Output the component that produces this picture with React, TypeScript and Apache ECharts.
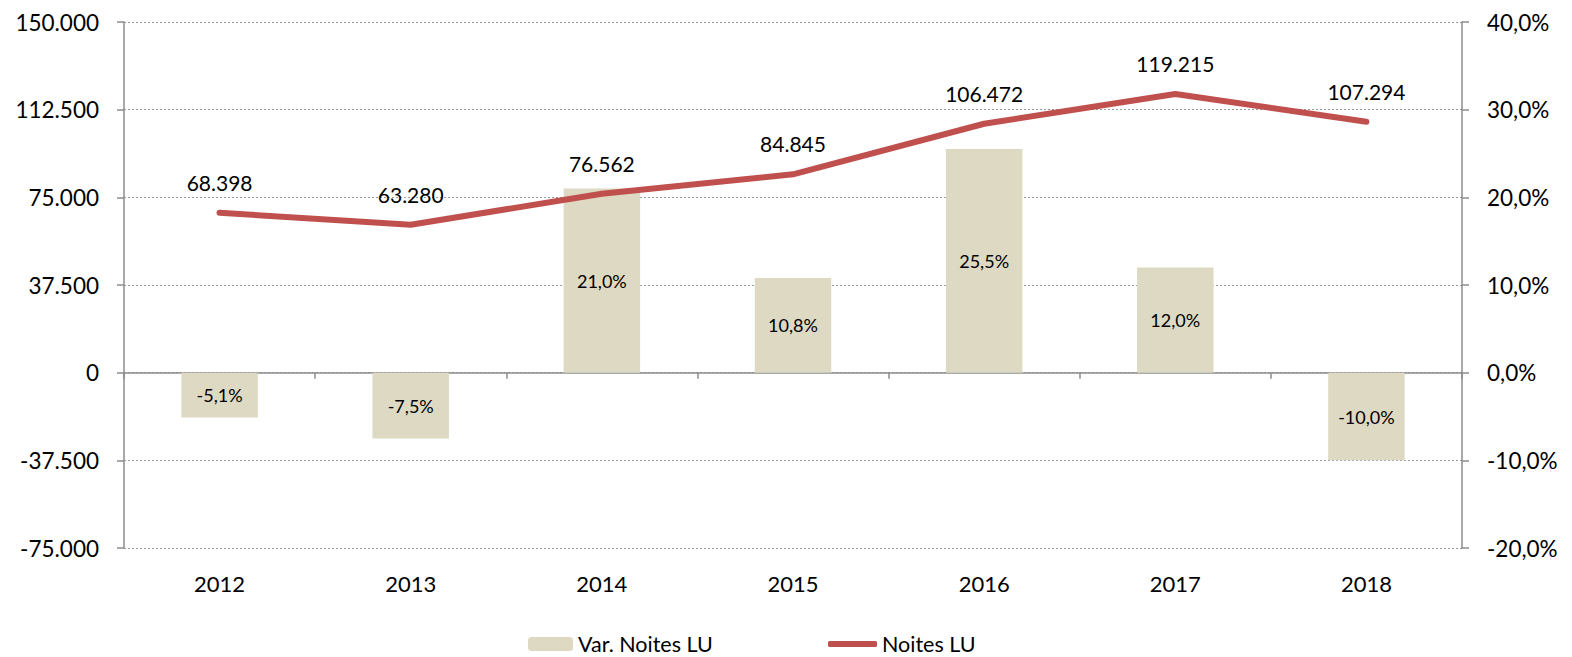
import React, { useEffect, useRef } from "react";
import * as echarts from "echarts";

const categories = ["2012", "2013", "2014", "2015", "2016", "2017", "2018"];
const varNoites = [-5.1, -7.5, 21.0, 10.8, 25.5, 12.0, -10.0];
const noites = [68398, 63280, 76562, 84845, 106472, 119215, 107294];
const barName = "Var. Noites LU";
const lineName = "Noites LU";

const FONT = "Lato, 'Open Sans', sans-serif";
const AXIS_GRAY = "#8c8c8c";
const RED = "#C0504D";

const fmtThousands = (v: number) => {
  const neg = v < 0;
  const s = Math.abs(Math.round(v)).toString().replace(/\B(?=(\d{3})+(?!\d))/g, ".");
  return (neg ? "-" : "") + s;
};
const fmtPct = (v: number) => v.toFixed(1).replace(".", ",") + "%";

export default function App() {
  const ref = useRef<HTMLDivElement>(null);
  useEffect(() => {
    if (!ref.current) return;
    const chart = echarts.init(ref.current, undefined, { renderer: "svg" });
    chart.setOption({
      animation: false,
      textStyle: { fontFamily: FONT },
      grid: { left: 124, right: 110, top: 22, bottom: 109, containLabel: false },
      legend: [
        {
          data: [barName],
          left: 528,
          top: 633,
          padding: 0,
          itemWidth: 45,
          itemHeight: 14,
          textStyle: { fontSize: 21.5, color: "#000", fontFamily: FONT },
        },
        {
          data: [{ name: lineName, icon: "roundRect" }],
          left: 828,
          top: 633,
          padding: 0,
          itemWidth: 49,
          itemHeight: 6,
          textStyle: { fontSize: 21.5, color: "#000", fontFamily: FONT },
        },
      ],
      xAxis: [
        {
          type: "category",
          data: categories,
          position: "bottom",
          axisLine: { show: false, onZero: false },
          axisTick: { show: false },
          axisLabel: { fontSize: 22, color: "#000", margin: 24, fontFamily: FONT },
          splitLine: { show: false },
        },
        {
          type: "category",
          data: categories,
          position: "bottom",
          axisLine: { show: true, onZero: true, onZeroAxisIndex: 0, lineStyle: { color: AXIS_GRAY, width: 1.5 } },
          axisTick: { show: true, length: 6, lineStyle: { color: AXIS_GRAY, width: 1.5 } },
          axisLabel: { show: false },
          splitLine: { show: false },
        },
      ],
      yAxis: [
        {
          type: "value",
          min: -75000,
          max: 150000,
          interval: 37500,
          position: "left",
          axisLine: { show: true, lineStyle: { color: AXIS_GRAY, width: 1.5 } },
          axisTick: { show: true, length: 7, lineStyle: { color: AXIS_GRAY, width: 1.5 } },
          axisLabel: { fontSize: 22.5, color: "#000", margin: 25, formatter: (v: number) => fmtThousands(v), fontFamily: FONT },
          splitLine: { show: true, lineStyle: { color: "#9a9a9a", type: [2, 2], width: 1 } },
        },
        {
          type: "value",
          min: -20,
          max: 40,
          interval: 10,
          position: "right",
          axisLine: { show: true, lineStyle: { color: AXIS_GRAY, width: 1.5 } },
          axisTick: { show: true, length: 7, lineStyle: { color: AXIS_GRAY, width: 1.5 } },
          axisLabel: { fontSize: 22.5, color: "#000", margin: 25, formatter: (v: number) => fmtPct(v), fontFamily: FONT },
          splitLine: { show: false },
        },
      ],
      series: [
        {
          name: barName,
          type: "bar",
          xAxisIndex: 0,
          yAxisIndex: 1,
          data: varNoites,
          barWidth: "40%",
          itemStyle: { color: "#DDD9C3" },
          label: {
            show: true,
            position: "inside",
            fontSize: 18,
            color: "#000",
            fontFamily: FONT,
            formatter: (p: any) => fmtPct(p.value),
          },
          z: 2,
        },
        {
          name: lineName,
          type: "line",
          xAxisIndex: 0,
          yAxisIndex: 0,
          data: noites,
          symbol: "circle",
          symbolSize: 0.01,
          showSymbol: true,
          lineStyle: { color: RED, width: 6, cap: "round", join: "round" },
          itemStyle: { color: RED },
          label: {
            show: true,
            position: "top",
            distance: 20,
            fontSize: 21,
            color: "#000",
            fontFamily: FONT,
            formatter: (p: any) => fmtThousands(p.value),
          },
          z: 3,
        },
      ],
    });
    return () => chart.dispose();
  }, []);
  return <div ref={ref} style={{ width: 1572, height: 657, position: "absolute", left: 0, top: 0 }} />;
}
